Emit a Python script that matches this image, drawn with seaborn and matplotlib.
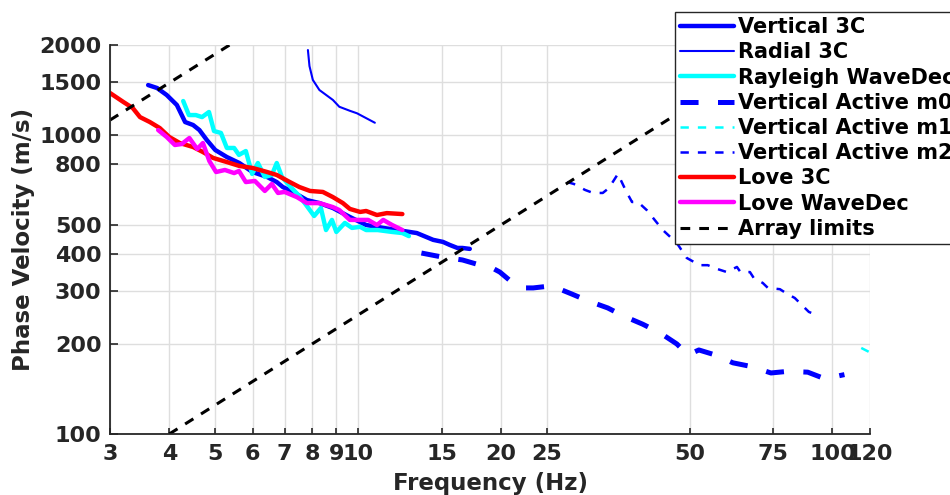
import matplotlib
matplotlib.use("Agg")
import matplotlib.pyplot as plt
import seaborn as sns
from matplotlib.ticker import FixedLocator, FixedFormatter, NullLocator

# ---- dispersion curves (frequency in Hz, phase velocity in m/s) ----
vert3c_freq = [3.61, 3.77, 3.95, 4.15, 4.32, 4.49, 4.63, 4.80, 5.00, 5.29, 5.62, 5.99,
               6.43, 6.74, 6.94, 7.29, 7.80, 8.29, 8.85, 9.61, 10.4, 11.3, 12.1, 13.3,
               14.4, 15.1, 15.6, 16.2, 16.6, 17.2]
vert3c_vel = [1469, 1436, 1361, 1260, 1105, 1080, 1039, 962, 891, 844, 806, 752,
              724, 696, 670, 645, 606, 592, 570, 532, 500, 489, 481, 470,
              446, 439, 429, 419, 419, 416]

rad3c_freq = [7.84, 7.90, 8.03, 8.29, 8.85, 9.13, 9.61, 9.95, 10.85]
rad3c_vel = [1924, 1700, 1528, 1414, 1310, 1243, 1205, 1182, 1099]

rayl_wd_freq = [4.28, 4.40, 4.55, 4.69, 4.85, 4.97, 5.14, 5.29, 5.48, 5.61, 5.80, 5.98,
                6.15, 6.36, 6.58, 6.74, 6.91, 7.18, 7.52, 7.80, 8.08, 8.35, 8.56, 8.81,
                9.00, 9.38, 9.71, 10.1, 10.4, 11.0, 11.8, 12.4, 12.8]
rayl_wd_vel = [1299, 1166, 1166, 1148, 1194, 1031, 1016, 905, 905, 858, 884, 741,
               806, 724, 735, 806, 724, 675, 625, 579, 536, 570, 481, 520,
               474, 508, 489, 493, 481, 481, 474, 470, 459]

act_m0_freq = [13.6, 15.0, 16.6, 18.1, 19.0, 19.9, 21.2, 22.3, 23.4, 25.6, 28.2, 30.5,
               33.6, 36.3, 39.8, 43.3, 47.0, 49.6, 52.3, 56.5, 61.7, 67.6, 74.2, 80.5,
               88.7, 96.4, 106]
act_m0_vel = [403, 391, 382, 367, 362, 348, 320, 308, 308, 313, 294, 279,
              264, 248, 233, 218, 200, 184, 191, 184, 173, 168, 160, 162,
              161, 153, 158]

act_m1_freq = [115, 118, 122]
act_m1_vel = [194, 190, 185]

act_m2_freq = [27.6, 28.5, 30.1, 31.3, 32.8, 33.8, 35.3, 36.2, 36.9, 37.8, 38.9, 40.6,
               43.9, 47.0, 49.3, 52.5, 54.6, 57.3, 59.9, 62.9, 64.0, 67.0, 68.3, 71.3,
               73.1, 77.5, 79.8, 83.3, 86.2, 89.2, 92.7]
act_m2_vel = [696, 686, 655, 640, 640, 665, 741, 681, 640, 597, 597, 561,
              481, 435, 388, 367, 367, 356, 348, 362, 348, 348, 332, 320,
              308, 305, 296, 285, 270, 256, 250]

love3c_freq = [3.00, 3.20, 3.35, 3.47, 3.64, 3.82, 4.00, 4.21, 4.49, 4.71, 4.95, 5.29,
               5.62, 5.99, 6.43, 6.74, 7.18, 7.52, 7.92, 8.43, 8.85, 9.29, 9.61, 10.1,
               10.4, 10.96, 11.5, 12.4]
love3c_vel = [1382, 1290, 1231, 1148, 1105, 1055, 985, 940, 912, 877, 838, 812,
              788, 776, 752, 735, 696, 670, 650, 645, 620, 592, 566, 553,
              557, 540, 548, 544]

love_wd_freq = [3.79, 3.95, 4.11, 4.25, 4.41, 4.58, 4.71, 4.86, 5.02, 5.24, 5.48, 5.61,
                5.80, 6.06, 6.36, 6.58, 6.78, 7.00, 7.43, 7.80, 8.29, 8.85, 9.13, 9.61,
                10.1, 10.5, 10.96, 11.3, 11.8, 12.4]
love_wd_vel = [1039, 985, 926, 933, 977, 898, 940, 818, 752, 764, 746, 758,
               696, 702, 650, 686, 640, 645, 620, 592, 592, 574, 561, 520,
               520, 520, 500, 520, 500, 481]

# array resolution limits (constant-wavelength lines)
limit_long_freq = [3.0, 5.36]
limit_long_vel = [1122, 2000]
limit_short_freq = [4.0, 80.0]
limit_short_vel = [100, 2000]

# ---- axis ticks ----
x_ticks = [3, 4, 5, 6, 7, 8, 9, 10, 15, 20, 25, 50, 75, 100, 120]
x_tick_labels = ["3", "4", "5", "6", "7", "8", "9", "10", "15", "20", "25", "50", "75", "100", "120"]
y_ticks = [100, 200, 300, 400, 500, 800, 1000, 1500, 2000]
y_tick_labels = ["100", "200", "300", "400", "500", "800", "1000", "1500", "2000"]

sns.set_theme(style="whitegrid")
plt.rcParams["font.family"] = ["DejaVu Sans"]
plt.rcParams["font.weight"] = "bold"
plt.rcParams["axes.labelweight"] = "bold"
plt.rcParams["lines.scale_dashes"] = False

DARK = "#262626"

fig = plt.figure(figsize=(9.5, 4.95), dpi=100)
ax = fig.add_axes([110 / 950, 1 - 434 / 495, 760 / 950, 389 / 495])
ax.set_facecolor("white")
ax.set_xscale("log")
ax.set_yscale("log")

series = [
    ("Vertical 3C", vert3c_freq, vert3c_vel, "#0000ff", 3.2, "-"),
    ("Radial 3C", rad3c_freq, rad3c_vel, "#0000ff", 1.5, "-"),
    ("Rayleigh WaveDec", rayl_wd_freq, rayl_wd_vel, "#00ffff", 3.2, "-"),
    ("Vertical Active m0", act_m0_freq, act_m0_vel, "#0000ff", 3.6, (0, (13, 14))),
    ("Vertical Active m1", act_m1_freq, act_m1_vel, "#00ffff", 1.8, (0, (6, 6.5))),
    ("Vertical Active m2", act_m2_freq, act_m2_vel, "#0000ff", 1.8, (0, (6, 6.5))),
    ("Love 3C", love3c_freq, love3c_vel, "#ff0000", 3.2, "-"),
    ("Love WaveDec", love_wd_freq, love_wd_vel, "#ff00ff", 3.2, "-"),
]

for label, fx, vy, color, lw, ls in series:
    sns.lineplot(x=fx, y=vy, ax=ax, color=color, linewidth=lw, linestyle=ls,
                 estimator=None, sort=False, label=label)

for i, (fx, vy) in enumerate([(limit_long_freq, limit_long_vel),
                              (limit_short_freq, limit_short_vel)]):
    sns.lineplot(x=fx, y=vy, ax=ax, color="black", linewidth=2.2,
                 linestyle=(0, (7, 6.5)), estimator=None, sort=False,
                 label="Array limits" if i == 0 else "_nolegend_")

ax.set_xlim(3, 120)
ax.set_ylim(100, 2000)

ax.xaxis.set_major_locator(FixedLocator(x_ticks))
ax.xaxis.set_major_formatter(FixedFormatter(x_tick_labels))
ax.xaxis.set_minor_locator(NullLocator())
ax.yaxis.set_major_locator(FixedLocator(y_ticks))
ax.yaxis.set_major_formatter(FixedFormatter(y_tick_labels))
ax.yaxis.set_minor_locator(NullLocator())

ax.grid(True, which="major", color="#dedede", linewidth=1.0)
for side in ["top", "right"]:
    ax.spines[side].set_visible(False)
for side in ["left", "bottom"]:
    ax.spines[side].set_color(DARK)
    ax.spines[side].set_linewidth(1.3)

ax.tick_params(axis="both", which="major", direction="in", colors=DARK,
               labelsize=16, width=1.2, bottom=True, left=True)
ax.tick_params(axis="x", length=4.5, pad=7)
ax.tick_params(axis="y", length=5.5, pad=6)
for lab in ax.get_xticklabels() + ax.get_yticklabels():
    lab.set_fontweight("bold")

ax.set_xlabel("Frequency (Hz)", fontsize=16.5, fontweight="bold", color=DARK, labelpad=6)
ax.set_ylabel("Phase Velocity (m/s)", fontsize=16.5, fontweight="bold", color=DARK, labelpad=3)

handles, labels = ax.get_legend_handles_labels()
leg = ax.legend(handles, labels, loc="upper left",
                bbox_to_anchor=(675 / 950, 1 - 12 / 495), bbox_transform=fig.transFigure,
                prop={"weight": "bold", "size": 15}, frameon=True, fancybox=False,
                framealpha=1, edgecolor=DARK, facecolor="white", borderpad=0.25,
                labelspacing=0.25, handlelength=2.6, handletextpad=0.15,
                borderaxespad=0)
leg.get_frame().set_linewidth(1.0)
for t in leg.get_texts():
    t.set_color("black")

fig.savefig("out.png", dpi=100)
